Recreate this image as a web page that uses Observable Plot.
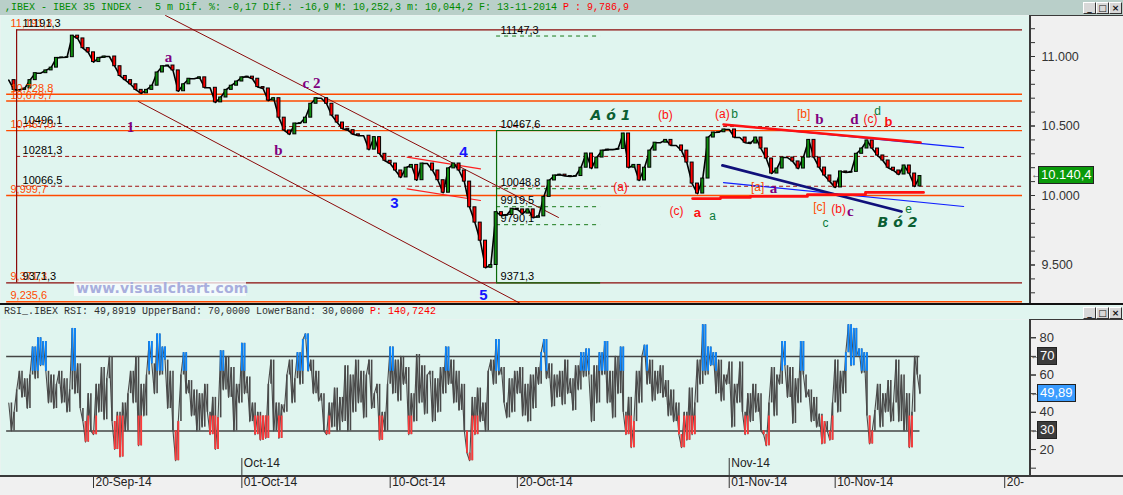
<!DOCTYPE html>
<html><head><meta charset="utf-8">
<script src="https://cdn.jsdelivr.net/npm/d3@7"></script>
<script src="https://cdn.jsdelivr.net/npm/@observablehq/plot@0.6"></script>
<style>
body{margin:0;background:#f0f0f0;}
#wrap{position:relative;width:1123px;height:495px;overflow:hidden;background:#f0f0f0;font-family:"Liberation Sans",Arial,sans-serif;}
.abs{position:absolute;}
.bar{font-family:"Liberation Mono","DejaVu Sans Mono",monospace;font-size:10px;white-space:pre;}
.btn{position:absolute;width:11px;height:10px;background:#d8d8d8;border-top:1px solid #fff;border-left:1px solid #fff;border-right:1px solid #333;border-bottom:1px solid #333;font:bold 9px/10px "DejaVu Sans",sans-serif;text-align:center;color:#111;}
.box{position:absolute;color:#fff;font-size:13px;line-height:16px;height:16px;padding:0 2px;border:1px solid #222;}
.arr{position:absolute;color:#555;font-size:11px;line-height:12px;}
</style></head>
<body><div id="wrap"></div>
<script>
// ---------------- DATA ----------------
const titleStats = {name: ",IBEX - IBEX 35 INDEX -  5 m", difPct: "-0,17", dif: "-16,9", max: "10,252,3", min: "10,044,2", date: "13-11-2014", p: "9,786,9"};
const rsiStats = {rsi: "49,8919", upper: "70,0000", lower: "30,0000", p: "140,7242"};

// price closes, every quarter trading day starting 16-Sep-14 (day 0)
const priceStep = 0.25;
const closes = [
10830,10760,10760,10770,10830,10880,10880,10900,10920,10990,
10993,10995,11150,11130,11060,11030,10960,10990,11000,11000,
10930,10860,10830,10800,10760,10735,10760,10790,10885,10930,
10935,10900,10750,10800,10840,10840,10850,10775,10775,10670,
10705,10760,10790,10820,10850,10855,10840,10780,10770,10683,
10700,10560,10468,10440,10518,10520,10560,10660,10700,10700,
10660,10575,10525,10480,10470,10440,10430,10430,10330,10420,
10300,10250,10230,10180,10130,10200,10220,10110,10230,10230,
10180,10110,10020,10195,10230,10180,10100,9915,9805,9675,
9480,9500,9880,9855,9860,9905,9900,9870,9900,9840,
9850,9990,10108,10144,10150,10140,10137,10140,10200,10302,
10195,10273,10323,10330,10330,10335,10446,10200,10220,10108,
10200,10323,10380,10380,10400,10360,10360,10323,10237,10086,
10014,10122,10417,10453,10455,10475,10475,10417,10417,10380,
10374,10417,10338,10266,10158,10194,10273,10273,10245,10194,
10273,10400,10273,10201,10144,10100,10058,10173,10165,10170,
10300,10338,10396,10338,10288,10252,10200,10180,10151,10216,
10158,10065,10140];
const lastPrice = 10140.4;

// RSI, every eighth of a trading day
const rsiStep = 0.125;
const rsi = [
45,30,40,52,62,48,58,42, 60,75,58,80,65,78,62,45, 60,42,55,62,45,58,40,52,
85,50,66,42,35,24,50,30, 28,55,40,64,36,58,70,35, 20,40,16,45,30,50,62,45,
70,22,55,38,60,78,66,50, 82,60,75,68,42,62,30,14, 35,60,72,50,57,38,52,30,
50,32,55,40,28,48,20,37, 73,52,70,48,64,30,55,45, 77,50,59,35,45,28,40,25,
38,26,55,68,30,45,26,44, 40,60,68,45,58,72,55,79, 82,62,68,50,62,46,50,30,
28,45,32,53,30,48,35,65, 30,60,40,68,45,62,37,60, 68,42,50,55,25,40,30,55,
75,50,68,46,70,55,64,28, 50,35,71,45,65,39,60,62, 35,58,40,64,50,75,55,68,
45,62,41,55,30,18,14,48, 28,53,35,45,30,62,68,55, 79,60,64,45,37,58,40,62,
50,64,38,55,35,60,42,64, 55,72,79,58,66,43,60,48, 62,44,68,50,58,41,65,52,
72,59,74,60,35,65,45,72, 60,78,45,62,37,70,50,75, 40,28,48,21,35,62,45,70,
76,55,68,46,62,50,65,48, 57,38,52,35,45,28,21,40, 25,53,28,45,68,55,87,60,
75,65,72,50,68,46,60,55, 67,32,55,45,67,40,28,50, 35,55,40,50,30,28,22,45,
64,38,60,55,78,65,48,64, 34,58,45,78,60,48,52,35, 48,32,39,23,35,30,25,45,
68,40,62,50,72,87,65,85, 70,74,61,72,38,23,30,41, 55,32,50,40,57,35,45,68,
35,60,30,50,21,40,70,60, 50];
const rsiLast = 49.8919;
const upperBand = 70, lowerBand = 30;

// time axis (trading-day index)
const dayTickPos = [4, 11, 18, 24, 34, 39, 47];
const dayTickLabels = ["20-Sep-14","01-Oct-14","10-Oct-14","20-Oct-14","01-Nov-14","10-Nov-14","20-"];
const monthTickPos = [11, 34];
const monthTickLabels = ["Oct-14","Nov-14"];

// horizontal levels
const solidOrange = [10728.8, 10679.7, 10467.0, 9999.7, 9235.6];
const topLevel = [11191.3];
const lowLevel = [9371.3];
const dashedLevels = [10496.1, 10281.3, 10066.5];
const orangeLabelVals = [11191.3, 10728.8, 10679.7, 10467.0, 9999.7, 9371.3, 9235.6];
const blackLabelVals = [11191.3, 10496.1, 10281.3, 10066.5, 9371.3];
const measureDay = 0.37;

// fibonacci tool
const fibDay = [23.02, 27.93];
const fibSolid = [10467.6, 9371.3];
const fibDashed = [11147.3, 10048.8, 9919.5, 9790.1];
const fibLabelVals = [11147.3, 10467.6, 10048.8, 9919.5, 9790.1, 9371.3];

// trend lines: [day, price] anchors
const upperChannel = [[7.40, 11295], [25.94, 9842]];
const lowerChannel = [[6.12, 10676], [24.15, 9223]];
const wedgeUpper = [[18.80, 10276], [22.26, 10192]];
const wedgeLower = [[18.80, 10048], [22.26, 9964]];
const blueUpper = [[33.73, 10511], [45.06, 10345]];
const redUpper = [[33.73, 10511], [43.03, 10381]];
const blueLower = [[33.73, 10093], [45.06, 9921]];
const navyLine = [[33.68, 10216], [42.13, 9885]];
const redBottom = [[32.27, 9978], [33.59, 9986], [35.0, 9993], [37.69, 10007], [40.43, 10022], [43.17, 10022]];

// wave labels: text, day, price
const purpleLabels = {t: ["a","1","b","c 2","b","d","a","c"], d: [7.54,5.75,12.73,14.29,38.26,39.91,36.09,39.72], p: [10993,10489,10324,10806,10547,10547,10050,9885]};
const blueLabels = {t: ["3","4","5"], d: [18.2,21.46,22.4], p: [9942,10309,9281]};
const redLabels = {t: ["(b)","(a)","(c)","(a)","(c)","(b)"], d: [30.99,28.87,31.51,33.68,40.67,39.16], p: [10575,10058,9885,10583,10547,9899]};
const redBoldLabels = {t: ["a","b"], d: [32.5,41.52], p: [9878,10532]};
const orangeLabels = {t: ["[b]","[a]","[c]"], d: [37.51,35.34,38.26], p: [10583,10058,9914]};
const greenLabels = {t: ["a","b","d","c","e"], d: [33.21,34.25,41.0,38.54,42.46], p: [9849,10583,10604,9799,9899]};
const bigLabels = {t: ["A ó 1","B ó 2"], d: [28.4,41.94], p: [10575,9806]};

// ---------------- HELPERS ----------------
const MINT = "#e0f5ef", ORANGE = "#ff4a00", DARKRED = "#8b0a0a";
const xDomain = [-0.39, 48.17];
const fmtDec = v => v.toFixed(1).replace(".", ",");
const fmtThou = v => d3.format(",.1f")(v).replace(/\.(\d)$/, ",$1");
const fmtEuro = v => d3.format(",.1f")(v).replace(/[,.]/g, c => c === "," ? "." : ",");
const pts = a => a.map(([d, p]) => ({d, p}));
const lab = o => o.t.map((t, i) => ({t, d: o.d[i], p: o.p[i]}));
const lineMark = (a, stroke, w) => Plot.line(pts(a), {x: "d", y: "p", stroke, strokeWidth: w, clip: true});

const candles = closes.map((c, i) => ({d: i * priceStep, o: i ? closes[i - 1] : c, c}));
const rsiData = rsi.map((v, i) => ({d: i * rsiStep, v0: i ? rsi[i - 1] : v, v}));
const rsiHiSeg = rsiData.filter(r => Math.max(r.v0, r.v) > 71).map(r => ({d: r.d, a: Math.max(Math.min(r.v0, r.v), 62), b: Math.max(r.v0, r.v)}));
const rsiLoSeg = rsiData.filter(r => Math.min(r.v0, r.v) < 29).map(r => ({d: r.d, a: Math.min(r.v0, r.v), b: Math.min(Math.max(r.v0, r.v), 38)}));

// ---------------- PRICE PANEL ----------------
const price = Plot.plot({
  width: 1123, height: 288, marginLeft: 0, marginRight: 94, marginTop: 0, marginBottom: 0,
  x: {domain: xDomain, axis: null},
  y: {domain: [9223, 11295], axis: null},
  style: {background: "transparent", fontFamily: "Liberation Sans, Arial, sans-serif", fontSize: "11px", color: "#333"},
  marks: [
    Plot.frame({fill: MINT, stroke: null}),
    Plot.ruleY(solidOrange, {x1: () => -0.1, x2: () => 47.84, stroke: ORANGE, strokeWidth: 1.4}),
    Plot.ruleY(topLevel, {x1: () => measureDay, x2: () => 47.84, stroke: DARKRED, strokeWidth: 1.4}),
    Plot.ruleY(lowLevel, {x1: () => -0.1, x2: () => 47.84, stroke: DARKRED, strokeWidth: 1.4}),
    Plot.ruleY(dashedLevels, {x1: () => measureDay, x2: () => 47.84, stroke: "#a01010", strokeWidth: 1, strokeDasharray: "4,3"}),
    Plot.ruleX([measureDay], {y1: () => lowLevel[0], y2: () => topLevel[0], stroke: DARKRED, strokeWidth: 1.2}),
    Plot.ruleY(fibSolid, {x1: () => fibDay[0], x2: () => fibDay[1], stroke: "#0a6a0a", strokeWidth: 1.2}),
    Plot.ruleY(fibDashed, {x1: () => fibDay[0], x2: () => fibDay[1], stroke: "#1a7a1a", strokeWidth: 1, strokeDasharray: "4,4"}),
    Plot.ruleX([fibDay[0]], {y1: () => fibSolid[1], y2: () => fibSolid[0], stroke: "#0a6a0a", strokeWidth: 1.2}),
    lineMark(upperChannel, DARKRED, 1),
    lineMark(lowerChannel, DARKRED, 1),
    lineMark(wedgeUpper, "#ff2020", 1.2),
    lineMark(wedgeLower, "#ff2020", 1.2),
    Plot.line(candles, {x: "d", y: "c", stroke: "#000", strokeWidth: 1.6}),
    Plot.rect(candles, {x1: d => d.d - 0.07, x2: d => d.d + 0.07, y1: "o", y2: "c",
      fill: d => d.c >= d.o ? "#109010" : "#ff0000", stroke: "#000", strokeWidth: 1}),
    lineMark(blueUpper, "#1020ff", 1.2),
    lineMark(redUpper, "#ff1010", 2.5),
    lineMark(blueLower, "#1020ff", 1.2),
    lineMark(navyLine, "#10107a", 2.8),
    Plot.line(pts(redBottom), {x: "d", y: "p", stroke: "#ff1010", strokeWidth: 2.8, curve: "step-after"}),
    // level labels
    Plot.text(orangeLabelVals, {x: () => 0.08, y: d => d, text: fmtThou, textAnchor: "start", dy: -6, fill: ORANGE, fontSize: 11}),
    Plot.text(blackLabelVals, {x: () => 0.65, y: d => d, text: fmtDec, textAnchor: "start", dy: -6, fill: "#000", fontSize: 11}),
    Plot.text(fibLabelVals, {x: () => 23.21, y: d => d, text: fmtDec, textAnchor: "start", dy: -6, fill: "#000", fontSize: 11}),
    // wave labels
    Plot.text(lab(purpleLabels), {x: "d", y: "p", text: "t", fill: "#800080", fontWeight: "bold", fontSize: 15, fontFamily: "Liberation Serif, serif"}),
    Plot.text(lab(blueLabels), {x: "d", y: "p", text: "t", fill: "#1515ff", fontWeight: "bold", fontSize: 15}),
    Plot.text(lab(redLabels), {x: "d", y: "p", text: "t", fill: "#ff1010", fontSize: 12}),
    Plot.text(lab(redBoldLabels), {x: "d", y: "p", text: "t", fill: "#ff1010", fontWeight: "bold", fontSize: 13}),
    Plot.text(lab(orangeLabels), {x: "d", y: "p", text: "t", fill: ORANGE, fontSize: 12}),
    Plot.text(lab(greenLabels), {x: "d", y: "p", text: "t", fill: "#0a7a3a", fontSize: 12}),
    Plot.text(lab(bigLabels), {x: "d", y: "p", text: "t", fill: "#0b5e32", fontWeight: "bold", fontStyle: "italic", fontSize: 14, fontFamily: "DejaVu Sans, sans-serif"}),
    // right axis
    Plot.axisY({anchor: "right", label: null, ticks: d3.range(9300, 11300, 100), tickSize: 5, tickFormat: () => "", stroke: "#333"}),
    Plot.axisY({anchor: "right", label: null, ticks: [9500, 10000, 10500, 11000], tickSize: 5, tickPadding: 7,
      tickFormat: v => d3.format(",")(v).replace(",", "."), fontSize: 12.5, fill: "#333", stroke: "#333"})
  ]
});

// ---------------- RSI PANEL ----------------
const rsiPlot = Plot.plot({
  width: 1123, height: 190, marginLeft: 0, marginRight: 94, marginTop: 14, marginBottom: 20,
  x: {domain: xDomain, axis: null},
  y: {domain: [6.07, 89.8], axis: null},
  style: {background: "transparent", fontFamily: "Liberation Sans, Arial, sans-serif", fontSize: "12px", color: "#333"},
  marks: [
    Plot.frame({fill: MINT, stroke: null}),
    Plot.ruleY([upperBand, lowerBand], {x1: () => rsiData[0].d - 0.1, x2: () => rsiData[rsiData.length - 1].d, stroke: "#444", strokeWidth: 1.5}),
    Plot.line(rsiData, {x: "d", y: "v", stroke: "#4a4a4a", strokeWidth: 1.1}),
    Plot.ruleX(rsiData, {x: "d", y1: "v0", y2: "v", stroke: "#4a4a4a", strokeWidth: 1.6}),
    Plot.ruleX(rsiHiSeg, {x: "d", y1: "a", y2: "b", stroke: "#0a86ff", strokeWidth: 1.8}),
    Plot.ruleX(rsiLoSeg, {x: "d", y1: "a", y2: "b", stroke: "#ff3a3a", strokeWidth: 1.8}),
    Plot.ruleX(monthTickPos, {y1: () => 15.2, y2: () => 6.07, stroke: "#333", strokeWidth: 1}),
    Plot.text(monthTickPos, {x: d => d, text: (d, i) => monthTickLabels[i], frameAnchor: "bottom", dy: -9, dx: 2, textAnchor: "start", fill: "#222", fontSize: 12}),
    Plot.axisX({ticks: dayTickPos, label: null, tickSize: 13, tickFormat: () => "", stroke: "#333"}),
    Plot.text(dayTickPos, {x: d => d, text: (d, i) => dayTickLabels[i], frameAnchor: "bottom", dy: 10, dx: 2, textAnchor: "start", fill: "#222", fontSize: 12}),
    Plot.axisY({anchor: "right", label: null, ticks: d3.range(10, 90, 10), tickSize: 6, tickFormat: () => "", stroke: "#333"}),
    Plot.axisY({anchor: "right", label: null, ticks: [20, 40, 60, 80], tickSize: 6, tickPadding: 4, fontSize: 13, fill: "#333", stroke: "#333"})
  ]
});

// ---------------- LAYOUT ----------------
const wrap = document.getElementById("wrap");
function div(style, html = "", cls = "abs") {
  const e = document.createElement("div"); e.className = cls; e.setAttribute("style", style); e.innerHTML = html; wrap.appendChild(e); return e;
}
function buttons(top) {
  ["_", "□", "×"].forEach((g, i) => div(`left:${1083 + i * 13}px;top:${top}px`, g, "btn"));
}
// title bar
div("left:0;top:0;width:1123px;height:15px;background:#b9cfc9;", "");
div("left:5px;top:0;height:15px;line-height:15px;color:#008a00;",
  `${titleStats.name} Dif. %: ${titleStats.difPct} Dif.: ${titleStats.dif} M: ${titleStats.max} m: ${titleStats.min} F: ${titleStats.date} <span style="color:#ff0000">P : ${titleStats.p}</span>`, "abs bar");
buttons(2);
// price panel
const pBox = div("left:0;top:15px;width:1123px;height:288px;");
pBox.appendChild(price);
div("left:1029px;top:15px;width:1.5px;height:288px;background:#3a3a3a;");
div("left:1029px;top:15px;width:94px;height:1px;background:#3a3a3a;");
// watermark
div("left:74px;top:281px;width:172px;height:15px;background:rgba(250,252,255,0.75);");
div("left:76px;top:280px;font:bold 14px 'DejaVu Sans',sans-serif;color:#a8aedd;letter-spacing:0.2px;", "www.visualchart.com");
// current price box
const py = price.scale("y").apply(lastPrice) + 15;
div(`left:1031px;top:${py - 7}px;`, "←", "arr");
div(`left:1038px;top:${py - 9}px;background:#0a9a0a;width:50px;`, fmtEuro(lastPrice), "box");
// separator
div("left:0;top:303px;width:1123px;height:2px;background:#111;");
// RSI title row
div(`left:0;top:305px;width:1123px;height:14px;background:${MINT};`);
div("left:4px;top:305px;height:14px;line-height:14px;color:#303030;",
  `RSI_.IBEX RSI: ${rsiStats.rsi} UpperBand: ${rsiStats.upper} LowerBand: ${rsiStats.lower} <span style="color:#ff0000">P: ${rsiStats.p}</span>`, "abs bar");
buttons(307);
// RSI panel
const rBox = div("left:0;top:305px;width:1123px;height:190px;");
rBox.appendChild(rsiPlot);
div("left:1029px;top:319px;width:1.5px;height:157px;background:#3a3a3a;");
div("left:1029px;top:319px;width:94px;height:1px;background:#3a3a3a;");
div("left:0;top:475px;width:1123px;height:1.5px;background:#3a3a3a;");
// RSI value boxes
const ry = v => rsiPlot.scale("y").apply(v) + 305;
[[upperBand, "#3c3c3c", String(upperBand)], [rsiLast, "#3a9cff", rsiLast.toFixed(2).replace(".", ",")], [lowerBand, "#3c3c3c", String(lowerBand)]]
  .forEach(([v, bg, t]) => {
    div(`left:1030px;top:${ry(v) - 7}px;`, "←", "arr");
    div(`left:1037px;top:${ry(v) - 9}px;background:${bg};`, t, "box");
  });
</script></body></html>
